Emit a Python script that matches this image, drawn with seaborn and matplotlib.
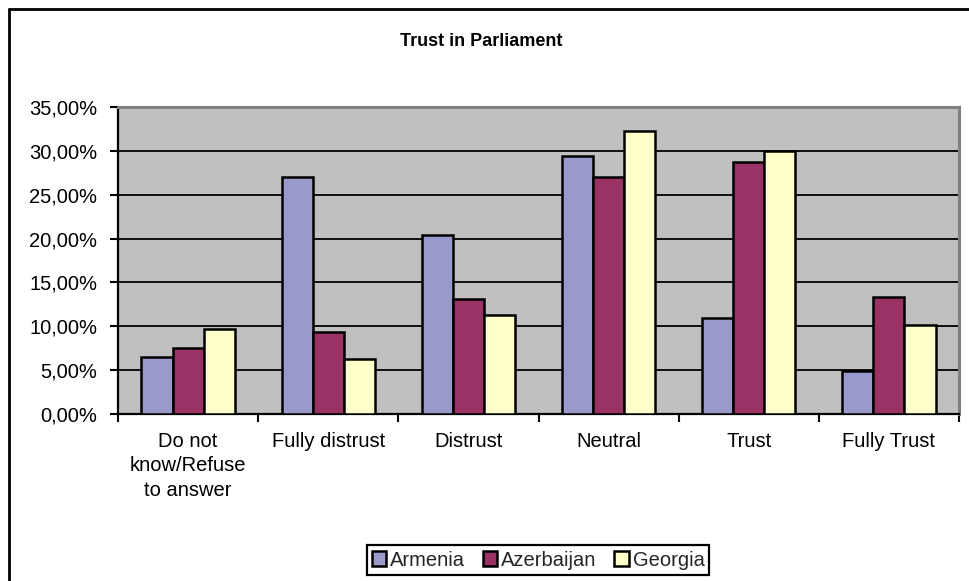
import matplotlib
matplotlib.use("Agg")
import matplotlib.pyplot as plt
from matplotlib.lines import Line2D
from matplotlib.ticker import FuncFormatter, FixedLocator
import seaborn as sns
import pandas as pd
import numpy as np

categories = ["Do not\nknow/Refuse\nto answer", "Fully distrust", "Distrust",
              "Neutral", "Trust", "Fully Trust"]
countries = ["Armenia", "Azerbaijan", "Georgia"]
armenia = [6.54, 27.03, 20.46, 29.47, 10.95, 4.87]
azerbaijan = [7.57, 9.39, 13.16, 27.03, 28.71, 13.38]
georgia = [9.73, 6.31, 11.25, 32.32, 29.96, 10.15]
colors = ["#9999CC", "#993366", "#FFFFCC"]

df = pd.DataFrame({
    "category": categories * 3,
    "country": [c for c in countries for _ in categories],
    "value": armenia + azerbaijan + georgia,
})

sns.set_theme(style="white")
plt.rcParams["font.family"] = ["Liberation Sans", "DejaVu Sans"]

W, H = 969, 581
fig = plt.figure(figsize=(W / 100, H / 100), dpi=100)
fig.patch.set_facecolor("white")
ax = fig.add_axes([118 / W, 1 - 414 / H, (959 - 118) / W, (414 - 107) / H])
ax.set_facecolor("#C0C0C0")

sns.barplot(data=df, x="category", y="value", hue="country", order=categories,
            hue_order=countries, palette=colors, width=0.665, edgecolor="black",
            linewidth=1.8, saturation=1, ax=ax, legend=True, zorder=3)

ax.set_ylim(0, 35)
ax.set_xlim(-0.5, len(categories) - 0.5)
ax.yaxis.set_major_locator(FixedLocator(np.arange(0, 35.01, 5)))
ax.yaxis.set_major_formatter(
    FuncFormatter(lambda v, p: f"{v:.2f}".replace(".", ",") + "%"))
ax.grid(axis="y", color="black", linewidth=1.3, zorder=1)
ax.set_axisbelow(True)
ax.set_xlabel("")
ax.set_ylabel("")

ax.xaxis.set_minor_locator(FixedLocator(np.arange(-0.5, len(categories), 1.0)))
ax.tick_params(axis="x", which="major", length=0, pad=13, labelsize=14.5,
               colors="black")
ax.tick_params(axis="x", which="minor", length=6, width=1.5, direction="out",
               color="black", bottom=True)
ax.tick_params(axis="y", length=6, width=1.5, direction="out", color="black",
               left=True, labelsize=14.5, labelcolor="black", pad=9)
for lbl in ax.get_xticklabels():
    lbl.set_linespacing(1.35)
    lbl.set_ha("center")

for side in ["left", "bottom"]:
    ax.spines[side].set_color("black")
    ax.spines[side].set_linewidth(1.6)
for side in ["top", "right"]:
    ax.spines[side].set_color("#808080")
    ax.spines[side].set_linewidth(2.2)

ax.get_legend().remove()
handles = [plt.Rectangle((0, 0), 1, 1, facecolor=c, edgecolor="black",
                         linewidth=1.8) for c in colors]
fig.legend(handles, countries, loc="center",
           bbox_to_anchor=(538 / W, 1 - 560 / H), ncol=3, frameon=True,
           fancybox=False, edgecolor="black", fontsize=14.5,
           handlelength=0.7, handleheight=0.7, handletextpad=0.2,
           columnspacing=0.9, borderpad=0.25, framealpha=1)
fig.legends[0].get_frame().set_linewidth(1.6)

fig.text(481 / W, 1 - 41 / H, "Trust in Parliament", ha="center",
         va="center", fontsize=13, fontweight="bold", color="black")

# outer chart frame (left and top edges)
fig.add_artist(Line2D([8.5 / W, 8.5 / W], [0, 1 - 9 / H], color="black",
                      linewidth=2.0, transform=fig.transFigure))
fig.add_artist(Line2D([8.5 / W, 1], [1 - 9 / H, 1 - 9 / H], color="black",
                      linewidth=2.0, transform=fig.transFigure))

fig.savefig("out.png", dpi=100, facecolor="white")
